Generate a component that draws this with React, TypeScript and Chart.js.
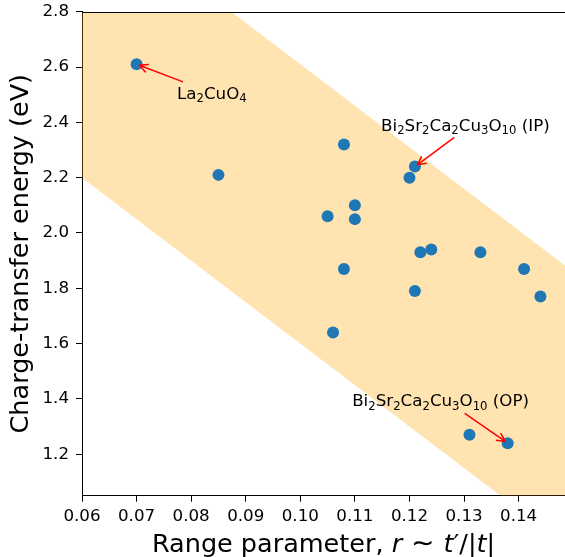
import React, { useEffect, useRef } from "react";
import { Chart, registerables } from "chart.js";

Chart.register(...registerables);

// Scatter data: range parameter r ~ t'/|t| and charge-transfer energy (eV)
const rValues = [0.070, 0.085, 0.108, 0.121, 0.120, 0.110, 0.105, 0.110, 0.122, 0.124, 0.133, 0.108, 0.141, 0.121, 0.144, 0.106, 0.131, 0.138];
const energyValues = [2.61, 2.21, 2.32, 2.24, 2.20, 2.10, 2.06, 2.05, 1.93, 1.94, 1.93, 1.87, 1.87, 1.79, 1.77, 1.64, 1.27, 1.24];

// Shaded band edges
const bandX = [0.06, 0.15];
const bandLower = [2.2, 0.85];
const bandUpper = [3.21, 1.86];

// Axis ticks
const xTicks = [0.06, 0.07, 0.08, 0.09, 0.10, 0.11, 0.12, 0.13, 0.14];
const yTicks = [1.2, 1.4, 1.6, 1.8, 2.0, 2.2, 2.4, 2.6, 2.8];
const xMin = 0.06;
const xMax = 0.1485;
const yMin = 1.05;
const yMax = 2.8;

// Annotations ({} marks subscript)
const annTexts = ["La{2}CuO{4}", "Bi{2}Sr{2}Ca{2}Cu{3}O{10} (IP)", "Bi{2}Sr{2}Ca{2}Cu{3}O{10} (OP)"];
const annTextX = [0.0774, 0.1148, 0.1095];
const annTextY = [2.486, 2.370, 1.373];
const annTailX = [0.0784, 0.1281, 0.1302];
const annTailY = [2.547, 2.344, 1.3465];
const annTargetX = [0.070, 0.121, 0.138];
const annTargetY = [2.61, 2.24, 1.24];

const xTitle = [
  { t: "Range parameter, ", it: false, sz: 1 },
  { t: "r", it: true, sz: 1 },
  { t: " \u223C ", it: false, sz: 1.1 },
  { t: "t", it: true, sz: 1 },
  { t: "\u2032", it: false, sz: 1 },
  { t: "/|", it: false, sz: 1 },
  { t: "t", it: true, sz: 1 },
  { t: "|", it: false, sz: 1 },
];
const yTitle = "Charge-transfer energy (eV)";

const FONT = "'DejaVu Sans', sans-serif";
const BLUE = "#1f77b4";

function parseRich(s: string) {
  const segs: { t: string; sub: boolean }[] = [];
  const re = /\{([^}]*)\}|([^{]+)/g;
  let m: RegExpExecArray | null;
  while ((m = re.exec(s))) {
    if (m[1] !== undefined) segs.push({ t: m[1], sub: true });
    else segs.push({ t: m[2], sub: false });
  }
  return segs;
}

function drawRich(ctx: CanvasRenderingContext2D, s: string, x: number, y: number, size: number) {
  const segs = parseRich(s);
  let cx = x;
  ctx.textAlign = "left";
  ctx.textBaseline = "alphabetic";
  ctx.fillStyle = "#000";
  for (const seg of segs) {
    const fs = seg.sub ? size * 0.7 : size;
    ctx.font = `${fs}px ${FONT}`;
    ctx.fillText(seg.t, cx, seg.sub ? y + size * 0.22 : y);
    cx += ctx.measureText(seg.t).width;
  }
}

function drawArrow(ctx: CanvasRenderingContext2D, x1: number, y1: number, x2: number, y2: number) {
  const ang = Math.atan2(y2 - y1, x2 - x1);
  const shrink = 3;
  const tx = x2 - Math.cos(ang) * shrink;
  const ty = y2 - Math.sin(ang) * shrink;
  ctx.strokeStyle = "#ff0000";
  ctx.lineWidth = 1.5;
  ctx.lineCap = "round";
  ctx.lineJoin = "round";
  ctx.beginPath();
  ctx.moveTo(x1, y1);
  ctx.lineTo(tx, ty);
  const hl = 8;
  const hw = 4;
  const bx = tx - Math.cos(ang) * hl;
  const by = ty - Math.sin(ang) * hl;
  const px = -Math.sin(ang) * hw;
  const py = Math.cos(ang) * hw;
  ctx.moveTo(bx + px, by + py);
  ctx.lineTo(tx, ty);
  ctx.lineTo(bx - px, by - py);
  ctx.stroke();
}

const overlayPlugin = {
  id: "overlay",
  afterDraw(chart: any) {
    const ctx: CanvasRenderingContext2D = chart.ctx;
    const area = chart.chartArea;
    const xs = chart.scales.x;
    const ys = chart.scales.y;
    ctx.save();
    // top spine
    ctx.strokeStyle = "#000";
    ctx.lineWidth = 1;
    ctx.beginPath();
    ctx.moveTo(area.left, Math.round(area.top) + 0.5);
    ctx.lineTo(chart.width, Math.round(area.top) + 0.5);
    ctx.stroke();

    // annotations
    for (let i = 0; i < annTexts.length; i++) {
      drawArrow(
        ctx,
        xs.getPixelForValue(annTailX[i]),
        ys.getPixelForValue(annTailY[i]),
        xs.getPixelForValue(annTargetX[i]),
        ys.getPixelForValue(annTargetY[i])
      );
      drawRich(ctx, annTexts[i], xs.getPixelForValue(annTextX[i]), ys.getPixelForValue(annTextY[i]), 16.7);
    }

    // x title
    const tSize = 25.5;
    let total = 0;
    for (const s of xTitle) {
      ctx.font = `${s.it ? "italic " : ""}${tSize * s.sz}px ${FONT}`;
      total += ctx.measureText(s.t).width;
    }
    let cx = (area.left + area.right) / 2 - total / 2;
    ctx.fillStyle = "#000";
    ctx.textAlign = "left";
    ctx.textBaseline = "alphabetic";
    for (const s of xTitle) {
      ctx.font = `${s.it ? "italic " : ""}${tSize * s.sz}px ${FONT}`;
      ctx.fillText(s.t, cx, 551.5);
      cx += ctx.measureText(s.t).width;
    }

    // y title
    ctx.translate(28, (area.top + area.bottom) / 2);
    ctx.rotate(-Math.PI / 2);
    ctx.font = `25.5px ${FONT}`;
    ctx.textAlign = "center";
    ctx.fillText(yTitle, 0, 0);
    ctx.restore();
  },
};

export default function App() {
  const ref = useRef<HTMLCanvasElement | null>(null);
  useEffect(() => {
    if (!ref.current) return;
    const chart = new Chart(ref.current, {
      type: "scatter",
      data: {
        datasets: [
          {
            type: "scatter",
            data: rValues.map((x, i) => ({ x, y: energyValues[i] })),
            backgroundColor: BLUE,
            borderColor: BLUE,
            pointRadius: 6,
            pointBorderWidth: 0,
            order: 0,
          } as any,
          {
            type: "line",
            data: bandX.map((x, i) => ({ x, y: bandLower[i] })),
            borderWidth: 0,
            borderColor: "rgba(0,0,0,0)",
            pointRadius: 0,
            fill: false,
            order: 1,
          } as any,
          {
            type: "line",
            data: bandX.map((x, i) => ({ x, y: bandUpper[i] })),
            borderWidth: 0,
            borderColor: "rgba(0,0,0,0)",
            backgroundColor: "rgba(255,165,0,0.3)",
            pointRadius: 0,
            fill: "-1",
            order: 1,
          } as any,
        ],
      },
      options: {
        animation: false,
        responsive: false,
        layout: { autoPadding: false, padding: { top: 11.7, left: 0, right: 0, bottom: 0 } },
        plugins: {
          legend: { display: false },
          tooltip: { enabled: false },
        },
        scales: {
          x: {
            type: "linear",
            min: xMin,
            max: xMax,
            afterBuildTicks: (scale: any) => {
              scale.ticks = xTicks.map((v) => ({ value: v }));
            },
            afterFit: (scale: any) => {
              scale.height = 61.3;
              scale.paddingLeft = 0;
              scale.paddingRight = 0;
            },
            ticks: {
              color: "#000",
              font: { family: FONT, size: 16.7 },
              padding: 5,
              maxRotation: 0,
              autoSkip: false,
              callback: (v: any) => Number(v).toFixed(2),
            },
            grid: { display: true, drawOnChartArea: false, drawTicks: true, tickLength: 6, color: "#000" },
            border: { display: true, color: "#000", width: 1 },
          },
          y: {
            type: "linear",
            min: yMin,
            max: yMax,
            afterBuildTicks: (scale: any) => {
              scale.ticks = yTicks.map((v) => ({ value: v }));
            },
            afterFit: (scale: any) => {
              scale.width = 82;
              scale.paddingTop = 0;
              scale.paddingBottom = 0;
            },
            ticks: {
              color: "#000",
              font: { family: FONT, size: 16.7 },
              padding: 7,
              autoSkip: false,
              callback: (v: any) => Number(v).toFixed(1),
            },
            grid: { display: true, drawOnChartArea: false, drawTicks: true, tickLength: 6, color: "#000" },
            border: { display: true, color: "#000", width: 1 },
          },
        },
      },
      plugins: [overlayPlugin],
    });
    return () => chart.destroy();
  }, []);
  return (
    <div style={{ position: "fixed", left: 0, top: 0, width: 565, height: 557, background: "#fff" }}>
      <canvas ref={ref} width={565} height={557} style={{ display: "block" }} />
    </div>
  );
}
